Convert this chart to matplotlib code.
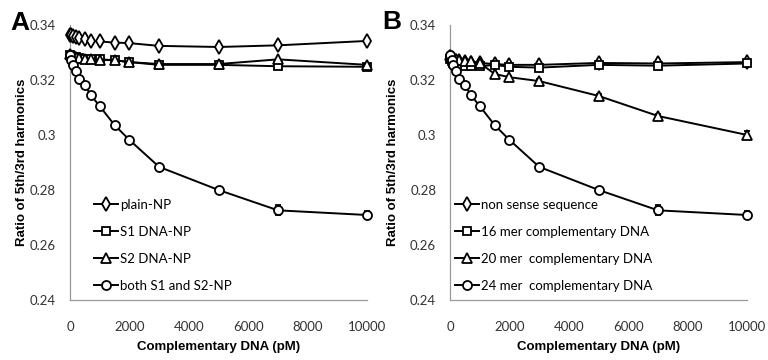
import matplotlib
matplotlib.use('Agg')
import matplotlib.pyplot as plt
from matplotlib import font_manager

# concentrations of complementary DNA (pM)
conc = [0, 50, 100, 200, 300, 500, 700, 1000, 1500, 2000, 3000, 5000, 7000, 10000]

# panel A
plain_np = [0.3365, 0.3362, 0.3360, 0.3356, 0.3352, 0.3348, 0.3342, 0.3340,
            0.3336, 0.3334, 0.3324, 0.3320, 0.3326, 0.3342]
s1_np = [0.3290, 0.3288, 0.3285, 0.3283, 0.3280, 0.3278, 0.3276, 0.3275,
         0.3272, 0.3265, 0.3255, 0.3255, 0.3250, 0.3248]
s2_np = [0.3295, 0.3290, 0.3287, 0.3283, 0.3280, 0.3277, 0.3275, 0.3273,
         0.3272, 0.3265, 0.3258, 0.3258, 0.3275, 0.3255]
both_np = [0.3290, 0.3272, 0.3255, 0.3233, 0.3204, 0.3182, 0.3145, 0.3105,
           0.3036, 0.2982, 0.2884, 0.2800, 0.2726, 0.2709]
both_err = [0.0005, 0.0005, 0.0005, 0.0005, 0.0005, 0.0005, 0.0005, 0.0005,
            0.0005, 0.0005, 0.0006, 0.0008, 0.0018, 0.0013]

# panel B
nonsense = [0.3285, 0.3280, 0.3275, 0.3270, 0.3268, 0.3265, 0.3263, 0.3262,
            0.3258, 0.3255, 0.3255, 0.3262, 0.3260, 0.3265]
mer16 = [0.3275, 0.3268, 0.3262, 0.3260, 0.3255, 0.3252, 0.3252, 0.3250,
         0.3255, 0.3248, 0.3245, 0.3255, 0.3252, 0.3260]
mer20 = [0.3290, 0.3285, 0.3280, 0.3275, 0.3272, 0.3270, 0.3268, 0.3262,
         0.3222, 0.3210, 0.3196, 0.3142, 0.3069, 0.3000]
mer20_err = [0.0005, 0.0005, 0.0005, 0.0005, 0.0005, 0.0005, 0.0005, 0.0005,
             0.0005, 0.0005, 0.0006, 0.0007, 0.0008, 0.0013]
mer24 = both_np
mer24_err = both_err

yticks = [0.24, 0.26, 0.28, 0.3, 0.32, 0.34]
ytick_labels = ['0.24', '0.26', '0.28', '0.3', '0.32', '0.34']
xticks = [0, 2000, 4000, 6000, 8000, 10000]

# narrow font for the Excel-like text if available
installed = {f.name for f in font_manager.fontManager.ttflist}
if 'Liberation Sans Narrow' in installed:
    tick_font, small_size = 'Liberation Sans Narrow', 10.5
else:
    tick_font, small_size = 'Lato', 9.5
label_font = 'Liberation Sans'


def draw_panel(ax, series, ylabel_x, legend_x):
    for ys, err, mk, ms, lab in series:
        ax.errorbar(conc, ys, yerr=err, marker=mk, color='black', mfc='white',
                    mec='black', mew=1.3, ms=ms, lw=1.4, capsize=2,
                    elinewidth=1, label=lab, clip_on=False, zorder=3)
    ax.set_xlim(0, 10000)
    ax.set_ylim(0.24, 0.34)
    ax.set_xticks(xticks)
    ax.set_yticks(yticks)
    ax.set_yticklabels(ytick_labels)
    for lbl in ax.get_xticklabels() + ax.get_yticklabels():
        lbl.set_family(tick_font)
        lbl.set_fontsize(small_size)
        lbl.set_color('#333333')
    ax.tick_params(axis='x', length=0, pad=15)
    ax.tick_params(axis='y', length=0, pad=10)
    for s in ['top', 'right']:
        ax.spines[s].set_visible(False)
    for s in ['left', 'bottom']:
        ax.spines[s].set_color('#999999')
        ax.spines[s].set_linewidth(0.9)
    ax.set_xlabel('Complementary DNA (pM)', fontweight='bold',
                  family=label_font, fontsize=9.5, labelpad=6)
    ax.set_ylabel('Ratio of 5th/3rd harmonics', fontweight='bold',
                  family=label_font, fontsize=9.5)
    ax.yaxis.set_label_coords(ylabel_x, 0.5)
    handles, labels = ax.get_legend_handles_labels()
    handles = [h[0] for h in handles]
    ax.legend(handles, labels, loc='lower left',
              bbox_to_anchor=(legend_x, 0.0), frameon=False,
              prop={'family': tick_font, 'size': small_size}, handlelength=1.8,
              handletextpad=0.15, labelspacing=1.15, borderaxespad=0.2)


fig = plt.figure(figsize=(7.68, 3.6), dpi=100)
ax_a = fig.add_axes([0.0911, 0.1667, 0.387, 0.7639])
ax_b = fig.add_axes([0.586, 0.1667, 0.387, 0.7639])

draw_panel(ax_a, [
    (plain_np, None, 'd', 7, 'plain-NP'),
    (s1_np, None, 's', 6, 'S1 DNA-NP'),
    (s2_np, None, '^', 6.5, 'S2 DNA-NP'),
    (both_np, both_err, 'o', 6.5, 'both S1 and S2-NP'),
], -0.14, 0.055)

draw_panel(ax_b, [
    (nonsense, None, 'd', 7, 'non sense sequence'),
    (mer16, None, 's', 6, '16 mer complementary DNA'),
    (mer20, mer20_err, '^', 6.5, '20 mer  complementary DNA'),
    (mer24, mer24_err, 'o', 6.5, '24 mer  complementary DNA'),
], -0.172, -0.01)

fig.text(20 / 768, 1 - 23 / 360, 'A', fontsize=19, fontweight='bold',
         family=label_font, ha='center', va='center')
fig.text(392 / 768, 1 - 22 / 360, 'B', fontsize=19, fontweight='bold',
         family=label_font, ha='center', va='center')

fig.savefig('out.png', dpi=100)
